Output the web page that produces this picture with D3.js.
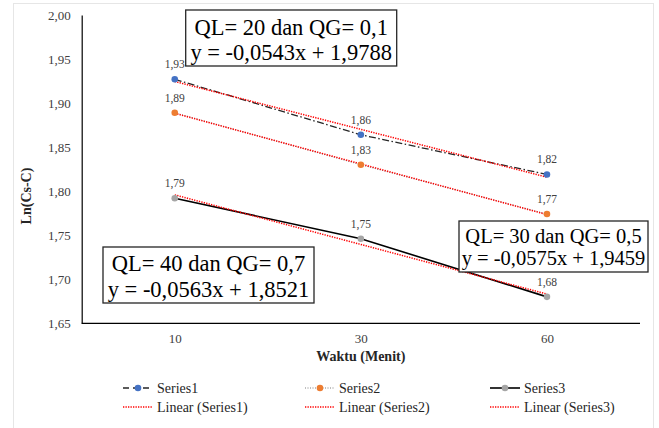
<!DOCTYPE html>
<html>
<head>
<meta charset="utf-8">
<script src="https://cdn.jsdelivr.net/npm/d3@7"></script>
<style>
  body { margin: 0; background: #fff; }
</style>
</head>
<body>
<div class="chart"></div>
<script>
// data
let categories = ["10", "30", "60"];
let series1 = [1.927, 1.864, 1.819];
let series2 = [1.889, 1.830, 1.774];
let series3 = [1.792, 1.746, 1.680];
let trendSlope = [-0.0543, -0.0575, -0.0563];
let trendIntercept = [1.9788, 1.9459, 1.8521];
let yTicks = [1.65, 1.70, 1.75, 1.80, 1.85, 1.90, 1.95, 2.00];
let boxLines = [
    ["QL= 20 dan QG= 0,1", "y = -0,0543x + 1,9788"],
    ["QL= 30 dan QG= 0,5", "y = -0,0575x + 1,9459"],
    ["QL= 40 dan QG= 0,7", "y = -0,0563x + 1,8521"]
];

const serif = "'Liberation Serif', 'Times New Roman', serif";

var svg = d3.select(".chart").append("svg").attr("width", 659).attr("height", 428);

// chart frame
svg.append("rect")
    .attr("x", 13.5).attr("y", 3.5)
    .attr("width", 640).attr("height", 430)
    .attr("fill", "none")
    .attr("stroke", "#e6e6e6");

const plotLeft = 81.7, plotRight = 640, plotTop = 15, plotBottom = 323.3;

let x = d3.scalePoint().domain(categories).range([plotLeft, plotRight]).padding(0.5);
let y = d3.scaleLinear().domain([1.65, 2.00]).range([plotBottom, plotTop]);

let comma = v => d3.format(".2f")(v).replace(".", ",");

// axes
let yAxis = svg.append("g")
    .attr("transform", `translate(${plotLeft},0)`)
    .call(d3.axisLeft(y).tickValues(yTicks).tickSize(0).tickPadding(11).tickFormat(comma));
yAxis.select(".domain").attr("stroke", "#000").attr("stroke-width", 1.2);
yAxis.selectAll("text")
    .attr("font-family", serif).attr("font-size", 13).attr("fill", "#404040");

let xAxis = svg.append("g")
    .attr("transform", `translate(0,${plotBottom})`)
    .call(d3.axisBottom(x).tickSize(0).tickPadding(10));
xAxis.select(".domain").attr("d", `M${plotLeft},0H${plotRight}`).attr("stroke", "#000").attr("stroke-width", 1.2);
xAxis.selectAll("text")
    .attr("font-family", serif).attr("font-size", 13).attr("fill", "#404040");

// axis titles
svg.append("text")
    .text("Ln(Cs-C)")
    .attr("transform", "translate(31,196) rotate(-90)")
    .attr("text-anchor", "middle")
    .attr("font-family", serif).attr("font-size", 14).attr("font-weight", "bold")
    .attr("fill", "#262626");

svg.append("text")
    .text("Waktu (Menit)")
    .attr("x", (plotLeft + plotRight) / 2).attr("y", 361)
    .attr("text-anchor", "middle")
    .attr("font-family", serif).attr("font-size", 14).attr("font-weight", "bold")
    .attr("fill", "#262626");

// series styles
let seriesList = [
    { values: series1, color: "#4472c4", stroke: "#262626", width: 1.3, dash: "7,2.5,1.5,2.5" },
    { values: series2, color: "#ed7d31", stroke: "#7f7f7f", width: 1, dash: "1,1.5" },
    { values: series3, color: "#a5a5a5", stroke: "#000", width: 1.6, dash: null }
];

let line = d3.line()
    .x((d, i) => x(categories[i]))
    .y(d => y(d));

seriesList.forEach((s, k) => {
    svg.append("path")
        .datum(s.values)
        .attr("d", line)
        .attr("fill", "none")
        .attr("stroke", s.stroke)
        .attr("stroke-width", s.width)
        .attr("stroke-dasharray", s.dash);
});

// linear trendlines, x = 1..3 like excel
seriesList.forEach((s, k) => {
    let trend = categories.map((c, i) => trendIntercept[k] + trendSlope[k] * (i + 1));
    svg.append("path")
        .datum(trend)
        .attr("d", line)
        .attr("fill", "none")
        .attr("stroke", "#ff0000")
        .attr("stroke-width", 1.5)
        .attr("stroke-dasharray", "1.3,1.2");
});

// markers and labels
seriesList.forEach((s, k) => {
    svg.selectAll(".dot" + k)
        .data(s.values)
        .enter().append("circle")
        .attr("cx", (d, i) => x(categories[i]))
        .attr("cy", d => y(d))
        .attr("r", 3.3)
        .attr("fill", s.color);

    svg.selectAll(".lbl" + k)
        .data(s.values)
        .enter().append("text")
        .text(d => comma(d))
        .attr("x", (d, i) => x(categories[i]))
        .attr("y", d => y(d) - 11)
        .attr("text-anchor", "middle")
        .attr("font-family", serif).attr("font-size", 11.5)
        .attr("fill", "#404040");
});

// equation boxes
let boxes = [
    { x: 185.7, y: 10, w: 211, h: 56, size: 22.5, b1: 35, gap: 25 },
    { x: 459, y: 221, w: 189, h: 51, size: 20.5, b1: 242.5, gap: 22.5 },
    { x: 103, y: 247, w: 211, h: 56, size: 22.5, b1: 271, gap: 25.5 }
];

boxes.forEach((b, k) => {
    svg.append("rect")
        .attr("x", b.x).attr("y", b.y)
        .attr("width", b.w).attr("height", b.h)
        .attr("fill", "#fff")
        .attr("stroke", "#262626")
        .attr("stroke-width", 1.3);
    boxLines[k].forEach((t, j) => {
        svg.append("text")
            .text(t)
            .attr("x", b.x + b.w / 2)
            .attr("y", b.b1 + j * b.gap)
            .attr("text-anchor", "middle")
            .attr("font-family", serif).attr("font-size", b.size)
            .attr("fill", "#000");
    });
});

// legend
let legendNames = ["Series1", "Series2", "Series3"];
let colX = [123, 305, 490];

seriesList.forEach((s, k) => {
    let g = svg.append("g").attr("transform", `translate(${colX[k]},388)`);
    g.append("line")
        .attr("x1", 0).attr("x2", 30).attr("y1", 0).attr("y2", 0)
        .attr("stroke", s.stroke)
        .attr("stroke-width", s.width)
        .attr("stroke-dasharray", k == 0 ? "6,4" : s.dash);
    g.append("circle").attr("cx", 15).attr("cy", 0).attr("r", 3.3).attr("fill", s.color);
    g.append("text")
        .text(legendNames[k])
        .attr("x", 34).attr("y", 5)
        .attr("font-family", serif).attr("font-size", 14)
        .attr("fill", "#262626");

    let g2 = svg.append("g").attr("transform", `translate(${colX[k]},407)`);
    g2.append("line")
        .attr("x1", 0).attr("x2", 30).attr("y1", 0).attr("y2", 0)
        .attr("stroke", "#ff0000")
        .attr("stroke-width", 1.5)
        .attr("stroke-dasharray", "1.3,1.2");
    g2.append("text")
        .text("Linear (" + legendNames[k] + ")")
        .attr("x", 34).attr("y", 5)
        .attr("font-family", serif).attr("font-size", 14)
        .attr("fill", "#262626");
});
</script>
</body>
</html>
